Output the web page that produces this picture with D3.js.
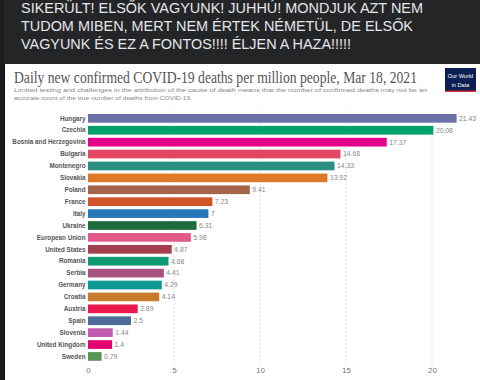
<!DOCTYPE html>
<html><head><meta charset="utf-8">
<script src="https://cdn.jsdelivr.net/npm/d3@7"></script>
<style>html,body{margin:0;padding:0;background:#242526;overflow:hidden}</style>
</head><body>
<script>
const headerLines = [
  "SIKERÜLT! ELSŐK VAGYUNK! JUHHÚ! MONDJUK AZT NEM",
  "TUDOM MIBEN, MERT NEM ÉRTEK NÉMETÜL, DE ELSŐK",
  "VAGYUNK ÉS EZ A FONTOS!!!! ÉLJEN A HAZA!!!!!"
];
const headerWidths = [402, 392, 330];
const title = "Daily new confirmed COVID-19 deaths per million people, Mar 18, 2021";
const subtitleLines = [
  "Limited testing and challenges in the attribution of the cause of death means that the number of confirmed deaths may not be an",
  "accurate count of the true number of deaths from COVID-19."
];
const countries = ["Hungary","Czechia","Bosnia and Herzegovina","Bulgaria","Montenegro","Slovakia","Poland","France","Italy","Ukraine","European Union","United States","Romania","Serbia","Germany","Croatia","Austria","Spain","Slovenia","United Kingdom","Sweden"];
const values = [21.43,20.08,17.37,14.68,14.33,13.92,9.41,7.23,7,6.31,5.98,4.87,4.68,4.41,4.29,4.14,2.89,2.5,1.44,1.4,0.79];
const colors = ["#6b70a8","#00a06a","#e4008a","#e44562","#2b8f80","#e07828","#a5654a","#d2532a","#2878b8","#1e6b3c","#e05a8a","#a3404f","#0f9a73","#a8527e","#0e9894","#c87b2c","#ec1a4c","#4d6b9c","#c25cb0","#e4006e","#5a9658"];
const xTicks = [0,5,10,15,20];

const W = 480, H = 380;
const svg = d3.select("body").append("svg").attr("width", W).attr("height", H);

svg.append("rect").attr("width", W).attr("height", H).attr("fill", "#242526");
svg.append("rect").attr("x", 0).attr("y", 0).attr("width", 4).attr("height", H).attr("fill", "#1b1c1d");
svg.append("rect").attr("x", 4).attr("y", 63).attr("width", 1).attr("height", H - 63).attr("fill", "#0e0e0e");

// header text
svg.selectAll("text.hdr").data(headerLines).join("text")
  .attr("class", "hdr")
  .attr("x", 21).attr("y", (d, i) => 13 + i * 18)
  .attr("textLength", (d, i) => headerWidths[i]).attr("lengthAdjust", "spacingAndGlyphs")
  .attr("fill", "#e4e6eb").attr("font-family", "Liberation Sans, Arial, sans-serif").attr("font-size", 14.5)
  .text(d => d);

// white panel
svg.append("rect").attr("x", 5).attr("y", 64).attr("width", W - 5).attr("height", H - 64).attr("fill", "#ffffff");

svg.append("g").attr("transform", "translate(14,82.5) scale(1,1.17)")
  .append("text").attr("x", 0).attr("y", 0)
  .attr("textLength", 403).attr("lengthAdjust", "spacingAndGlyphs")
  .attr("fill", "#555").attr("font-family", "Liberation Serif, Times New Roman, serif").attr("font-size", 13.7)
  .text(title);

svg.selectAll("text.sub").data(subtitleLines).join("text")
  .attr("class", "sub")
  .attr("x", 14).attr("y", (d, i) => 91.5 + i * 8)
  .attr("textLength", (d, i) => i === 0 ? 413 : 178).attr("lengthAdjust", "spacingAndGlyphs")
  .attr("fill", "#888").attr("font-family", "Liberation Sans, Arial, sans-serif").attr("font-size", 6)
  .text(d => d);

// logo
const logo = svg.append("g");
logo.append("rect").attr("x", 445).attr("y", 68).attr("width", 31).attr("height", 24).attr("fill", "#0b1f52");
logo.append("rect").attr("x", 445).attr("y", 90.5).attr("width", 31).attr("height", 1.5).attr("fill", "#d42b3a");
logo.append("text").attr("x", 460.5).attr("y", 77.5).attr("text-anchor", "middle").attr("fill", "#fff")
  .attr("font-family", "Liberation Sans, Arial, sans-serif").attr("font-size", 5.6).text("Our World");
logo.append("text").attr("x", 460.5).attr("y", 86.5).attr("text-anchor", "middle").attr("fill", "#fff")
  .attr("font-family", "Liberation Sans, Arial, sans-serif").attr("font-size", 5.6).text("in Data");

// scales
const x = d3.scaleLinear().domain([0, 20]).range([88, 432]);
const y = d3.scaleBand().domain(countries).range([112.4, 362.4]).paddingInner(0.27).paddingOuter(0.135);

// grid
svg.append("g").selectAll("line").data(xTicks.filter(t => t > 0)).join("line")
  .attr("x1", d => x(d)).attr("x2", d => x(d)).attr("y1", 111).attr("y2", 365)
  .attr("stroke", "#d8d8d8").attr("stroke-width", 0.8).attr("stroke-dasharray", "2,2");

// axis labels
const axis = d3.axisBottom(x).tickValues(xTicks).tickSize(0).tickPadding(0);
const ag = svg.append("g").attr("transform", "translate(0,367)").call(axis);
ag.select(".domain").remove();
ag.selectAll("text").attr("fill", "#777").attr("font-family", "Liberation Sans, Arial, sans-serif").attr("font-size", 8);

const data = countries.map((c, i) => ({c, v: values[i], col: colors[i]}));

svg.append("g").selectAll("rect").data(data).join("rect")
  .attr("x", x(0)).attr("y", d => y(d.c)).attr("width", d => x(d.v) - x(0)).attr("height", y.bandwidth())
  .attr("fill", d => d.col);

svg.append("g").selectAll("text").data(data).join("text")
  .attr("x", 85.5).attr("y", d => y(d.c) + y.bandwidth() / 2).attr("dy", "0.35em")
  .attr("text-anchor", "end").attr("fill", "#555").attr("font-weight", "bold")
  .attr("font-family", "Liberation Sans, Arial, sans-serif").attr("font-size", 6.3)
  .text(d => d.c);

svg.append("g").selectAll("text").data(data).join("text")
  .attr("x", d => x(d.v) + 2.5).attr("y", d => y(d.c) + y.bandwidth() / 2).attr("dy", "0.35em")
  .attr("fill", "#888").attr("font-family", "Liberation Sans, Arial, sans-serif").attr("font-size", 6.8)
  .text(d => d.v);
</script>
</body></html>
